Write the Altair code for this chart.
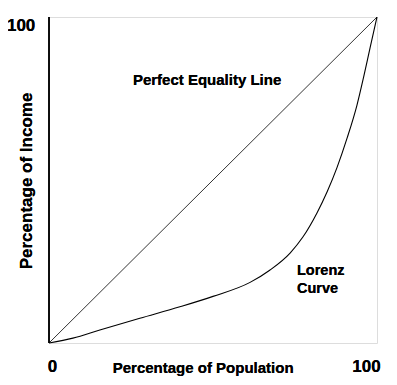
import altair as alt
import pandas as pd

# Lorenz curve (percentage of population, percentage of income)
pop = [0, 7.3, 15.5, 27.7, 39.9, 50.0, 61.3, 67.4, 73.5, 77.4, 81.7, 84.8, 87.8, 90.9, 93.9, 95.9, 97.9, 100]
inc = [0, 1.5, 4.0, 7.6, 11.1, 14.3, 18.6, 22.4, 27.6, 32.5, 39.9, 46.4, 53.8, 62.9, 73.0, 81.5, 90.6, 100]
# Perfect equality line
eq_x = [0, 100]
eq_y = [0, 100]

lorenz = pd.DataFrame({"x": pop, "y": inc})
equal = pd.DataFrame({"x": eq_x, "y": eq_y})

xs = alt.Scale(domain=[0, 100], nice=False, zero=False)
ys = alt.Scale(domain=[0, 100], nice=False, zero=False)
FONT = "Liberation Sans"

eq_line = alt.Chart(equal).mark_line(color="#000000", strokeWidth=0.8).encode(
    x=alt.X("x:Q", scale=xs, axis=None),
    y=alt.Y("y:Q", scale=ys, axis=None),
)
lz_line = alt.Chart(lorenz).mark_line(color="#000000", strokeWidth=1.1, interpolate="monotone").encode(
    x=alt.X("x:Q", scale=xs, axis=None),
    y=alt.Y("y:Q", scale=ys, axis=None),
    order="x:Q",
)
left_rule = alt.Chart(equal).mark_rule(color="#000000", strokeWidth=1.5).encode(
    x=alt.datum(0), y=alt.datum(0), y2=alt.datum(100)
)

def label(text, x, y, size, align="center", angle=0, baseline="middle"):
    return alt.Chart(equal).mark_text(
        text=text, font=FONT, fontWeight="bold", fontSize=size, align=align,
        baseline=baseline, angle=angle, color="#000000"
    ).encode(x=alt.datum(x), y=alt.datum(y))

texts = [
    label("100", -8.5, 97.2, 17),
    label("0", 1.1, -7.5, 17),
    label("100", 96.8, -7.5, 17),
    label("Percentage of Population", 47.0, -7.6, 15),
    label("Percentage of Income", -6.6, 49.7, 17, angle=270),
    label("Perfect Equality Line", 48.2, 80.7, 15),
    label("Lorenz", 75.6, 22.1, 14.5, align="left"),
    label("Curve", 75.6, 16.6, 14.5, align="left"),
]

chart = alt.layer(eq_line, lz_line, left_rule, *texts).properties(
    width=328, height=326,
    autosize=alt.AutoSizeParams(type="none"),
    padding={"left": 41, "top": 9, "right": 12, "bottom": 34},
).configure_view(stroke="#808080", strokeWidth=1.2).configure(background="white")

chart.save("out.html", embed_options={"renderer": "svg", "actions": False})
